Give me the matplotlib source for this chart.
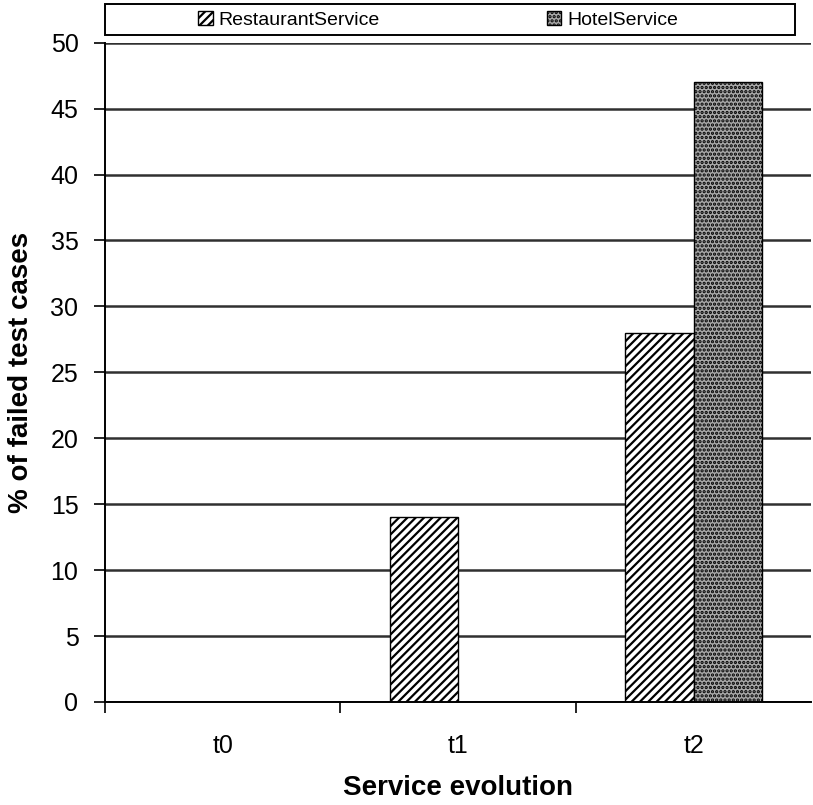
import numpy as np
import matplotlib
matplotlib.use("Agg")
import matplotlib.pyplot as plt
from matplotlib.patches import Patch, Rectangle

plt.rcParams['font.family'] = ['Liberation Sans', 'DejaVu Sans']
plt.rcParams['hatch.linewidth'] = 1.6

categories = ['t0', 't1', 't2']
restaurant = [0, 14, 28]
hotel = [0, 0, 47]

fig = plt.figure(figsize=(8.13, 8.05), dpi=100)
ax = fig.add_axes([0.129, 0.128, 0.869, 0.819])

x = np.arange(len(categories))
w = 0.29
ax.set_axisbelow(True)
ax.yaxis.grid(True, color='#303030', linewidth=1.8)
b1 = ax.bar(x - w / 2, restaurant, w, facecolor='white', edgecolor='black',
            hatch='////', linewidth=1)
b2 = ax.bar(x + w / 2, hotel, w, facecolor='#a8a8a8', edgecolor='black',
            hatch='....', linewidth=1)
for bars, vals in ((b1, restaurant), (b2, hotel)):
    for bar, v in zip(bars, vals):
        if v == 0:
            bar.set_visible(False)

ax.set_xlim(-0.5, 2.5)
ax.set_ylim(0, 50)
ax.set_yticks(range(0, 51, 5))
ax.set_xticks(x)
ax.set_xticklabels(categories)
ax.set_xticks([-0.5, 0.5, 1.5], minor=True)
ax.tick_params(axis='x', which='major', length=0, pad=23, labelsize=18)
ax.tick_params(axis='x', which='minor', length=8, width=1.2)
ax.tick_params(axis='y', length=8, width=1.2, labelsize=18, pad=11)
for s in ('top', 'right'):
    ax.spines[s].set_visible(False)
ax.spines['left'].set_linewidth(1.4)
ax.spines['bottom'].set_linewidth(1.4)

ax.set_xlabel('Service evolution', fontsize=20, fontweight='bold', labelpad=12)
ax.set_ylabel('% of failed test cases', fontsize=20, fontweight='bold', labelpad=12)

# legend box across the top
fig.add_artist(Rectangle((105 / 813, 1 - 35 / 805), 690 / 813, 31 / 805,
                         transform=fig.transFigure, facecolor='white',
                         edgecolor='black', linewidth=1.4))
handles = [Patch(facecolor='white', edgecolor='black', hatch='////', label='RestaurantService'),
           Patch(facecolor='#a8a8a8', edgecolor='black', hatch='....', label='HotelService')]
fig.legend(handles=handles, loc='center left', ncol=2,
           bbox_to_anchor=(198 / 813, 1 - 20 / 805), frameon=False, fontsize=14,
           handlelength=0.75, handleheight=0.75, borderpad=0, borderaxespad=0,
           handletextpad=0.3, columnspacing=8.6)

fig.savefig('out.png', dpi=100)
